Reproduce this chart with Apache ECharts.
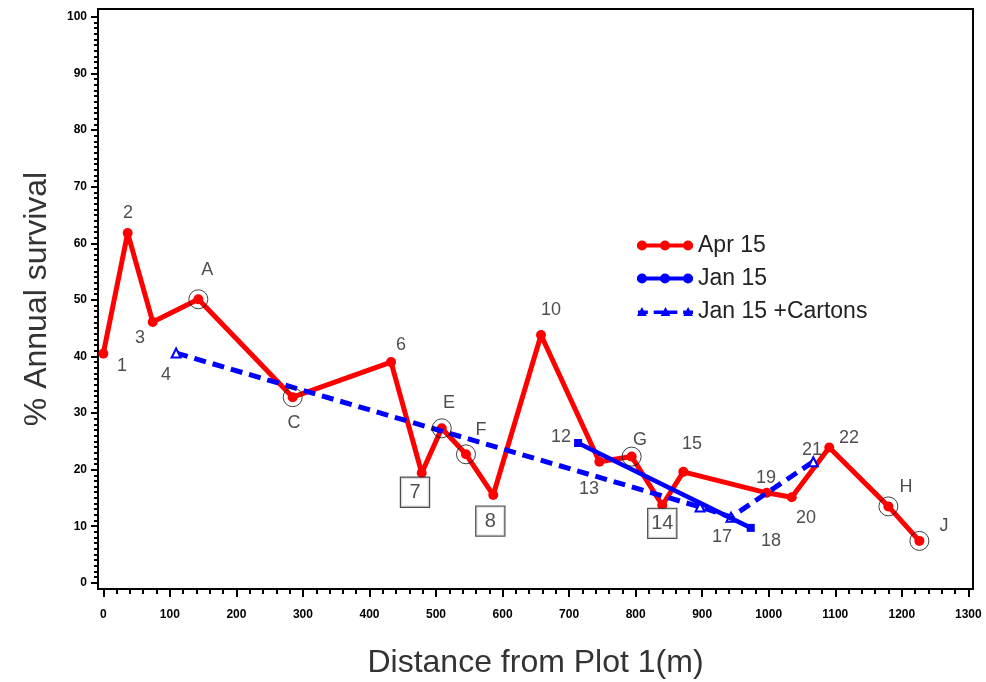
<!DOCTYPE html>
<html>
<head>
<meta charset="utf-8">
<title>% Annual survival</title>
<script src="https://cdn.jsdelivr.net/npm/echarts@6/dist/echarts.min.js"></script>
<style>
    html, body { margin: 0; padding: 0; background: #fff; }
    #chart { width: 986px; height: 682px; }
</style>
</head>
<body>
<div id="chart"></div>
<script>
    // tick labels
    var xTicks = [0, 100, 200, 300, 400, 500, 600, 700, 800, 900, 1000, 1100, 1200, 1300];
    var yTicks = [0, 10, 20, 30, 40, 50, 60, 70, 80, 90, 100];

    // Apr 15 survival (red line)
    var aprX = [0, 36.6, 74.2, 142.8, 284.6, 432.4, 478.5, 508.6, 545, 586, 657.8, 745.5, 794, 840, 871.7, 997, 1034.6, 1091, 1179.8, 1226.4];
    var aprY = [40.5, 61.8, 46.1, 50.1, 32.8, 39.0, 19.4, 27.3, 22.7, 15.5, 43.8, 21.4, 22.3, 13.7, 19.6, 15.9, 15.1, 23.9, 13.5, 7.4];

    // Jan 15 (blue solid)
    var janX = [713.5, 973];
    var janY = [24.7, 9.7];

    // Jan 15 +Cartons (blue dashed)
    var cartonX = [109.4, 896.8, 943.3, 1067];
    var cartonY = [40.6, 13.4, 11.6, 21.4];

    // circled plots
    var circX = [142.8, 284.6, 508.6, 545, 794, 1179.8, 1226.4];
    var circY = [50.1, 32.8, 27.3, 22.7, 22.3, 13.5, 7.4];

    // point labels
    var noteText = ['1', '2', '3', '4', 'A', 'C', '6', 'E', 'F', '10', '12', '13', 'G', '15', '17', '18', '19', '20', '21', '22', 'H', 'J'];
    var noteX = [28.1, 37.1, 55.2, 94.2, 156.1, 286.6, 447.4, 519.5, 567.6, 672.8, 687.8, 729.9, 806.5, 884.7, 929.8, 1003.4, 995.9, 1056, 1065.2, 1120.6, 1206.3, 1263.4];
    var noteY = [38.3, 65.4, 43.3, 36.7, 55.3, 28.2, 42.0, 31.8, 27.0, 48.2, 25.7, 16.6, 25.2, 24.5, 8.1, 7.4, 18.5, 11.4, 23.4, 25.6, 16.9, 10.0];

    // boxed labels
    var boxText = ['7', '8', '14'];
    var boxX = [468.4, 581.6, 840];
    var boxY = [16.0, 10.9, 10.5];

    function pairs(xs, ys) {
        var res = [];
        for (var i = 0; i < xs.length; i++) {
            res.push([xs[i], ys[i]]);
        }
        return res;
    }

    function named(xs, ys, names) {
        var res = [];
        for (var i = 0; i < xs.length; i++) {
            res.push({ value: [xs[i], ys[i]], name: names[i] });
        }
        return res;
    }

    // minor ticks between the labelled ones
    function minors(ticks, parts) {
        var res = [];
        for (var i = 0; i < ticks.length - 1; i++) {
            var step = (ticks[i + 1] - ticks[i]) / parts;
            for (var k = 1; k < parts; k++) {
                res.push(ticks[i] + step * k);
            }
        }
        return res;
    }

    // legend icons: thick line with three markers, drawn in a 56x12 box
    function dot(cx, r) {
        return 'M' + (cx - r) + ',6 a' + r + ',' + r + ' 0 1,1 ' + (2 * r) + ',0 a' + r + ',' + r + ' 0 1,1 ' + (-2 * r) + ',0 Z ';
    }
    function tri(cx) {
        return 'M' + (cx - 5) + ',10 L' + cx + ',1 L' + (cx + 5) + ',10 Z ';
    }
    var solidIcon = 'path://M0,4 L56,4 L56,8 L0,8 Z ' + dot(5, 5) + dot(28, 5) + dot(51, 5);
    var dashIcon = 'path://M0,4.5 L10,4.5 L10,8 L0,8 Z M16,4.5 L40,4.5 L40,8 L16,8 Z M46,4.5 L56,4.5 L56,8 L46,8 Z ' + tri(4) + tri(28) + tri(51);

    var tickFont = { fontFamily: 'Liberation Sans', fontWeight: 'bold', fontSize: 12, color: '#000' };
    var noteFont = 'Liberation Sans';
    var black = { color: '#000', width: 2 };

    // plot frame is a bit wider than the 0..1300 / 0..100 range
    var xMin = -8, xMax = 1307, yMin = -1.1, yMax = 101.4;

    var chart = echarts.init(document.getElementById('chart'), null, { renderer: 'canvas' });
    chart.setOption({
        animation: false,
        backgroundColor: '#fff',
        grid: {
            left: 98, right: 13, top: 9, bottom: 93,
            show: true, borderColor: '#000', borderWidth: 2,
            outerBoundsMode: 'none', containLabel: false
        },
        legend: {
            data: [
                { name: 'Apr 15', icon: solidIcon },
                { name: 'Jan 15', icon: solidIcon },
                { name: 'Jan 15 +Cartons', icon: dashIcon }
            ],
            orient: 'vertical',
            left: 632,
            top: 229,
            itemWidth: 56,
            itemHeight: 12,
            itemGap: 10,
            textStyle: { fontFamily: noteFont, fontSize: 23, color: '#222' }
        },
        xAxis: [{
            type: 'value',
            position: 'bottom',
            min: xMin,
            max: xMax,
            name: 'Distance from Plot 1(m)',
            nameLocation: 'middle',
            nameGap: 58,
            nameTextStyle: { fontFamily: noteFont, fontSize: 32, color: '#333' },
            axisLine: { show: true, onZero: false, lineStyle: black },
            axisTick: { show: true, length: 8, lineStyle: black, customValues: xTicks },
            axisLabel: Object.assign({ margin: 20, customValues: xTicks, formatter: function (v) { return String(v); } }, tickFont),
            splitLine: { show: false }
        }, {
            type: 'value',
            position: 'bottom',
            min: xMin,
            max: xMax,
            axisLine: { show: false, onZero: false },
            axisTick: { show: true, length: 5, lineStyle: black, customValues: minors(xTicks, 5) },
            axisLabel: { show: false },
            splitLine: { show: false }
        }],
        yAxis: [{
            type: 'value',
            position: 'left',
            min: yMin,
            max: yMax,
            name: '% Annual survival',
            nameLocation: 'middle',
            nameGap: 45,
            nameRotate: 90,
            nameTextStyle: { fontFamily: noteFont, fontSize: 32, color: '#333' },
            axisLine: { show: true, onZero: false, lineStyle: black },
            axisTick: { show: true, length: 7, lineStyle: black, customValues: yTicks },
            axisLabel: Object.assign({ margin: 11, customValues: yTicks }, tickFont),
            splitLine: { show: false }
        }, {
            type: 'value',
            position: 'left',
            min: yMin,
            max: yMax,
            axisLine: { show: false, onZero: false },
            axisTick: { show: true, length: 4, lineStyle: black, customValues: minors(yTicks, 10) },
            axisLabel: { show: false },
            splitLine: { show: false }
        }],
        series: [{
            name: 'Jan 15 +Cartons',
            type: 'line',
            data: pairs(cartonX, cartonY),
            symbol: 'emptyTriangle',
            symbolSize: 9,
            color: '#0000ff',
            lineStyle: { color: '#0000ff', width: 5, type: [12, 7] },
            itemStyle: { color: '#0000ff', borderWidth: 2 },
            z: 3
        }, {
            name: 'Apr 15',
            type: 'line',
            data: pairs(aprX, aprY),
            symbol: 'circle',
            symbolSize: 10,
            color: '#ff0000',
            lineStyle: { color: '#ff0000', width: 5 },
            itemStyle: { color: '#ff0000' },
            z: 2
        }, {
            name: 'Jan 15',
            type: 'line',
            data: pairs(janX, janY),
            symbol: 'rect',
            symbolSize: 8,
            color: '#0000ff',
            lineStyle: { color: '#0000ff', width: 4.5 },
            itemStyle: { color: '#0000ff' },
            z: 4
        }, {
            name: 'circled',
            type: 'scatter',
            data: pairs(circX, circY),
            symbol: 'circle',
            symbolSize: 19,
            itemStyle: { color: 'rgba(0,0,0,0)', borderColor: '#111', borderWidth: 1 },
            silent: true,
            z: 5
        }, {
            name: 'notes',
            type: 'scatter',
            data: named(noteX, noteY, noteText),
            symbolSize: 0,
            silent: true,
            label: {
                show: true,
                position: 'inside',
                formatter: '{b}',
                fontFamily: noteFont,
                fontSize: 18,
                color: '#222'
            },
            z: 6
        }, {
            name: 'boxes',
            type: 'scatter',
            data: named(boxX, boxY, boxText),
            symbolSize: 0,
            silent: true,
            label: {
                show: true,
                position: 'inside',
                formatter: '{b}',
                fontFamily: noteFont,
                fontSize: 20,
                color: '#222',
                width: 28,
                height: 29,
                lineHeight: 29,
                align: 'center',
                verticalAlign: 'middle',
                borderColor: '#222',
                borderWidth: 1.2,
                backgroundColor: '#fff'
            },
            z: 6
        }]
    });
</script>
</body>
</html>
